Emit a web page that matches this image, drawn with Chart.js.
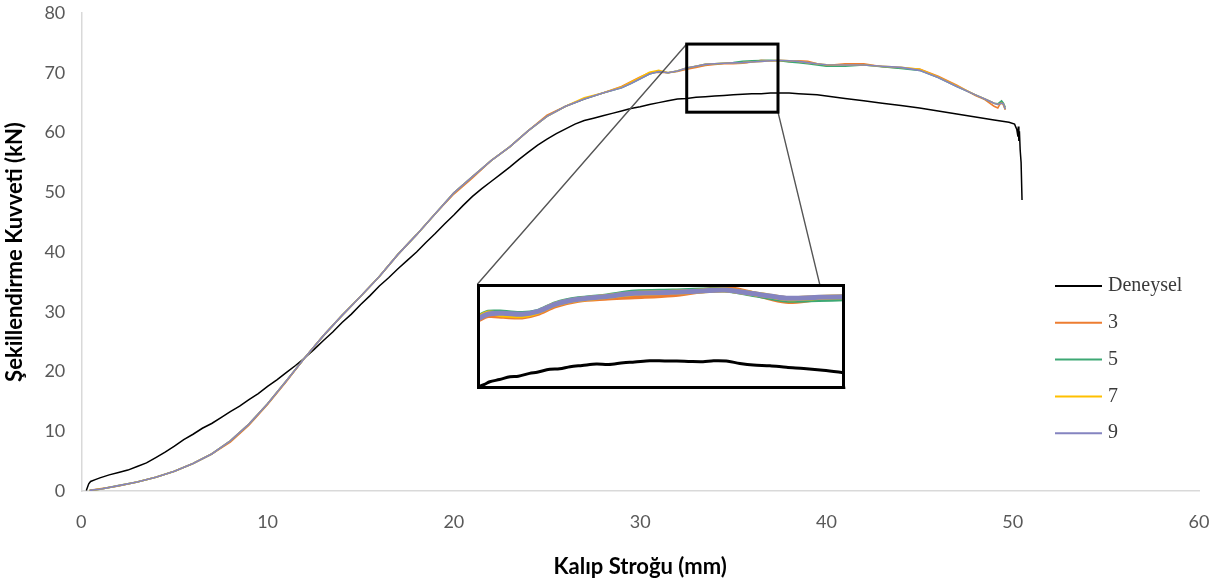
<!DOCTYPE html>
<html>
<head>
<meta charset="utf-8">
<script src="https://cdn.jsdelivr.net/npm/chart.js@4.4.0/dist/chart.umd.min.js"></script>
<style>
  html, body { margin: 0; padding: 0; background: #fff; }
  #wrap { position: relative; width: 1231px; height: 583px; }
  #main { position: absolute; left: 0; top: 0; }
  #inset { position: absolute; background: #fff; }
</style>
</head>
<body>
<div id="wrap">
  <canvas id="main" width="1231" height="583"></canvas>
  <canvas id="inset"></canvas>
</div>
<script>
// ---------------- DATA ----------------
const seriesLabels = ['Deneysel', '3', '5', '7', '9'];
const seriesColors = ['#000000', '#ED7D31', '#3DA874', '#FFC000', '#8584C0'];

const xTicks = [0, 10, 20, 30, 40, 50, 60];
const yTicks = [0, 10, 20, 30, 40, 50, 60, 70, 80];

// Experimental curve (Deneysel)
const expX = [0.27, 0.4, 0.5, 0.75, 1.0, 1.5, 2.0, 2.5, 3.0, 3.5, 4.0, 4.5, 5.0, 5.5, 6.0, 6.5, 7.0, 7.5, 8.0, 8.5, 9.0, 9.5, 10.0, 10.5, 11.0, 11.5, 12.0, 12.5, 13.0, 13.5, 14.0, 14.5, 15.0, 15.5, 16.0, 16.5, 17.0, 17.5, 18.0, 18.5, 19.0, 19.5, 20.0, 20.5, 21.0, 21.5, 22.0, 22.5, 23.0, 23.5, 24.0, 24.5, 25.0, 25.5, 26.0, 26.5, 27.0, 27.5, 28.0, 28.5, 29.0, 29.5, 30.0, 30.5, 31.0, 31.5, 32.0, 32.5, 33.0, 33.5, 34.0, 34.5, 35.0, 35.5, 36.0, 36.5, 37.0, 37.5, 38.0, 38.5, 39.0, 39.5, 40.0, 41.0, 42.0, 43.0, 44.0, 45.0, 46.0, 47.0, 48.0, 49.0, 49.8, 50.1, 50.22, 50.28, 50.3, 50.33, 50.36, 50.4, 50.45, 50.5];
const expY = [0.1, 1.2, 1.6, 1.9, 2.2, 2.7, 3.1, 3.5, 4.1, 4.7, 5.6, 6.5, 7.5, 8.6, 9.5, 10.5, 11.3, 12.3, 13.3, 14.2, 15.3, 16.3, 17.5, 18.6, 19.8, 21.0, 22.3, 23.7, 25.2, 26.6, 28.2, 29.6, 31.2, 32.7, 34.3, 35.7, 37.2, 38.6, 40.0, 41.6, 43.1, 44.7, 46.2, 47.8, 49.3, 50.6, 51.8, 53.0, 54.2, 55.5, 56.7, 57.9, 58.9, 59.8, 60.6, 61.4, 62.0, 62.4, 62.8, 63.2, 63.6, 64.0, 64.3, 64.7, 65.0, 65.3, 65.6, 65.7, 65.9, 66.0, 66.1, 66.2, 66.3, 66.4, 66.5, 66.5, 66.6, 66.6, 66.6, 66.5, 66.4, 66.3, 66.1, 65.7, 65.3, 64.9, 64.5, 64.1, 63.6, 63.1, 62.6, 62.1, 61.7, 61.4, 60.5, 59.3, 61.0, 58.6, 60.2, 57.1, 55.0, 48.7];

// Simulations (3, 5, 7, 9) share one x array
const simX = [0.45, 1, 2, 3, 4, 5, 6, 7, 8, 9, 10, 11, 12, 13, 14, 15, 16, 17, 18, 19, 20, 21, 22, 23, 24, 25, 26, 27, 28, 29, 29.5, 30, 30.5, 31, 31.5, 32, 32.5, 33, 33.5, 34, 34.5, 35, 35.5, 36, 36.5, 37, 37.5, 38, 38.5, 39, 39.5, 40, 41, 42, 43, 44, 45, 46, 47, 48, 48.5, 49, 49.2, 49.4, 49.5, 49.6];
const sim3 = [0.1, 0.35, 0.85, 1.5, 2.3, 3.3, 4.6, 6.2, 8.2, 11.0, 14.5, 18.3, 22.3, 26.0, 29.4, 32.6, 35.9, 39.6, 42.9, 46.4, 49.7, 52.4, 55.3, 57.6, 60.3, 62.9, 64.4, 65.6, 66.6, 67.7, 68.5, 69.3, 70.0, 70.1, 70.0, 70.2, 70.6, 70.9, 71.2, 71.4, 71.5, 71.5, 71.6, 71.8, 72.1, 72.0, 72.0, 71.9, 72.0, 71.9, 71.5, 71.2, 71.5, 71.5, 71.0, 70.8, 70.6, 69.4, 67.9, 66.2, 65.5, 64.4, 64.1, 65.2, 64.6, 63.8];
const sim5 = [0.1, 0.3, 0.9, 1.5, 2.3, 3.3, 4.6, 6.2, 8.4, 11.2, 14.6, 18.4, 22.3, 26.0, 29.4, 32.6, 35.9, 39.6, 42.9, 46.4, 49.9, 52.6, 55.3, 57.6, 60.3, 62.7, 64.4, 65.6, 66.6, 67.5, 68.2, 69.0, 69.8, 70.2, 70.0, 70.3, 70.8, 71.1, 71.4, 71.5, 71.6, 71.7, 71.9, 72.0, 72.05, 72.1, 72.0, 71.8, 71.7, 71.5, 71.3, 71.1, 71.1, 71.3, 71.0, 70.7, 70.4, 69.2, 67.7, 66.3, 65.6, 64.9, 64.8, 65.3, 64.9, 64.2];
const sim7 = [0.1, 0.3, 0.9, 1.5, 2.3, 3.3, 4.6, 6.2, 8.4, 11.2, 14.6, 18.4, 22.3, 26.0, 29.4, 32.6, 35.9, 39.6, 42.9, 46.4, 49.9, 52.6, 55.3, 57.6, 60.3, 62.7, 64.4, 65.8, 66.6, 67.6, 68.4, 69.2, 70.1, 70.4, 70.0, 70.3, 70.8, 71.1, 71.4, 71.5, 71.6, 71.65, 71.7, 71.8, 71.9, 72.0, 72.1, 72.0, 71.9, 71.7, 71.5, 71.35, 71.3, 71.3, 71.1, 70.9, 70.6, 69.3, 67.8, 66.3, 65.6, 64.9, 64.7, 64.9, 64.8, 63.9];
const sim9 = [0.1, 0.3, 0.9, 1.5, 2.3, 3.3, 4.6, 6.2, 8.4, 11.2, 14.6, 18.4, 22.3, 26.0, 29.4, 32.6, 35.9, 39.6, 42.9, 46.4, 49.9, 52.6, 55.3, 57.6, 60.3, 62.7, 64.4, 65.6, 66.6, 67.5, 68.2, 69.0, 69.8, 70.2, 70.0, 70.3, 70.8, 71.1, 71.4, 71.5, 71.6, 71.65, 71.7, 71.8, 71.9, 72.0, 72.1, 72.0, 71.9, 71.7, 71.5, 71.35, 71.3, 71.3, 71.1, 70.9, 70.4, 69.2, 67.7, 66.3, 65.6, 64.9, 64.7, 64.9, 64.8, 63.9];

// Zoomed window (box on the curves) and where its enlargement is placed
const zoomBoxX = [32.5, 37.4];
const zoomBoxY = [63.4, 74.8];
const insetBoxX = [21.26, 41.0];
const insetBoxY = [17.1, 34.6];

// Enlarged view readings
const insetYRange = [65.6, 73.4];
const insetSimX = [32.5, 32.65, 32.85, 33.1, 33.3, 33.55, 33.85, 34.2, 34.6, 35.1, 35.5, 35.8, 36.1, 36.4, 36.65, 37.05, 37.4];
const inset3 = [70.7, 71.05, 71.0, 70.95, 71.2, 71.8, 72.2, 72.35, 72.45, 72.6, 72.9, 73.1, 72.8, 72.35, 72.1, 72.3, 72.4];
const inset5 = [70.9, 71.3, 71.3, 71.2, 71.35, 71.95, 72.3, 72.5, 72.8, 72.88, 72.95, 72.95, 72.7, 72.4, 72.2, 72.25, 72.3];
const inset7 = [70.85, 71.25, 71.1, 71.05, 71.3, 71.9, 72.25, 72.45, 72.7, 72.78, 72.88, 72.95, 72.75, 72.5, 72.3, 72.4, 72.45];
const inset9 = [70.78, 71.17, 71.22, 71.15, 71.34, 71.91, 72.26, 72.46, 72.71, 72.78, 72.88, 72.95, 72.75, 72.51, 72.34, 72.41, 72.46];
const insetExpX = [32.5, 32.6, 32.67, 32.8, 32.94, 33.05, 33.2, 33.3, 33.47, 33.6, 33.74, 33.9, 34.09, 34.25, 34.45, 34.6, 34.8, 35.0, 35.16, 35.35, 35.51, 35.65, 35.82, 36.0, 36.18, 36.4, 36.62, 36.85, 37.07, 37.25, 37.38];
const insetExp = [65.73, 65.95, 66.14, 66.3, 66.51, 66.55, 66.76, 66.85, 67.06, 67.1, 67.26, 67.35, 67.46, 67.42, 67.55, 67.6, 67.7, 67.68, 67.68, 67.64, 67.63, 67.7, 67.68, 67.5, 67.38, 67.33, 67.21, 67.12, 67.01, 66.9, 66.81];

// ---------------- BUILD ----------------
function pts(xs, ys) { return xs.map((x, i) => ({ x: x, y: ys[i] })); }

const mainSeries = [pts(expX, expY), pts(simX, sim3), pts(simX, sim5), pts(simX, sim7), pts(simX, sim9)];
const insetSeries = [pts(insetExpX, insetExp), pts(insetSimX, inset3), pts(insetSimX, inset5), pts(insetSimX, inset7), pts(insetSimX, inset9)];

const tickFont = { family: 'Lato, "Open Sans", sans-serif', size: 18 };
const titleFont = { family: 'Lato, "Open Sans", sans-serif', size: 22, weight: 'bold' };

const overlayPlugin = {
  id: 'overlay',
  afterDatasetsDraw(chart) {
    const ctx = chart.ctx, xs = chart.scales.x, ys = chart.scales.y;
    const zx0 = xs.getPixelForValue(zoomBoxX[0]), zx1 = xs.getPixelForValue(zoomBoxX[1]);
    const zy0 = ys.getPixelForValue(zoomBoxY[1]), zy1 = ys.getPixelForValue(zoomBoxY[0]);
    const ix0 = xs.getPixelForValue(insetBoxX[0]), ix1 = xs.getPixelForValue(insetBoxX[1]);
    const iy0 = ys.getPixelForValue(insetBoxY[1]), iy1 = ys.getPixelForValue(insetBoxY[0]);
    ctx.save();
    ctx.strokeStyle = '#555555';
    ctx.lineWidth = 1.4;
    ctx.beginPath();
    ctx.moveTo(zx0, zy0); ctx.lineTo(ix0, iy0);
    ctx.moveTo(zx1, zy1); ctx.lineTo(ix1, iy1);
    ctx.stroke();
    ctx.strokeStyle = '#000';
    ctx.lineWidth = 3;
    ctx.strokeRect(zx0, zy0, zx1 - zx0, zy1 - zy0);
    // legend
    ctx.font = '20px "Liberation Serif", serif';
    ctx.textBaseline = 'middle';
    ctx.textAlign = 'left';
    const lx = 1055, ly = 286, step = 36.8;
    seriesLabels.forEach((lab, i) => {
      const y = ly + i * step;
      ctx.strokeStyle = seriesColors[i];
      ctx.lineWidth = 2;
      ctx.beginPath(); ctx.moveTo(lx, y); ctx.lineTo(lx + 47, y); ctx.stroke();
      ctx.fillStyle = '#3a3a3a';
      ctx.fillText(lab, lx + 53, y);
    });
    ctx.restore();
  }
};

const mainChart = new Chart(document.getElementById('main'), {
  type: 'line',
  data: {
    datasets: mainSeries.map((d, i) => ({
      label: seriesLabels[i],
      data: d,
      borderColor: seriesColors[i],
      borderWidth: i === 0 ? 1.5 : 1.6,
      pointRadius: 0,
      tension: 0,
      fill: false,
      order: i === 0 ? 5 : 5 - i
    }))
  },
  options: {
    responsive: false,
    animation: false,
    events: [],
    layout: { padding: { left: 2, right: 32, top: 13, bottom: 3 } },
    plugins: { legend: { display: false }, tooltip: { enabled: false } },
    scales: {
      x: {
        type: 'linear', min: 0, max: 60,
        afterBuildTicks: (s) => { s.ticks = xTicks.map(v => ({ value: v })); },
        ticks: { font: tickFont, color: '#595959', padding: 20.5 },
        grid: { display: false, drawTicks: false },
        border: { display: true, color: '#d9d9d9', width: 1.5 },
        title: { display: true, text: 'Kalıp Stroğu (mm)', font: titleFont, color: '#000', padding: { top: 0, bottom: 0 } }
      },
      y: {
        type: 'linear', min: 0, max: 80,
        afterBuildTicks: (s) => { s.ticks = yTicks.map(v => ({ value: v })); },
        afterFit: (s) => { s.paddingTop = 0; },
        ticks: { font: tickFont, color: '#595959', padding: 16 },
        grid: { display: false, drawTicks: false },
        border: { display: true, color: '#d9d9d9', width: 1.5 },
        title: { display: true, text: 'Şekillendirme Kuvveti (kN)', font: titleFont, color: '#000', padding: { top: 0, bottom: 0 } }
      }
    }
  },
  plugins: [overlayPlugin]
});

// Inset chart placed over the enlargement box, using the main chart's scales for placement
const xs = mainChart.scales.x, ys = mainChart.scales.y;
const il = xs.getPixelForValue(insetBoxX[0]), ir = xs.getPixelForValue(insetBoxX[1]);
const it = ys.getPixelForValue(insetBoxY[1]), ib = ys.getPixelForValue(insetBoxY[0]);
const insetCanvas = document.getElementById('inset');
insetCanvas.width = Math.round(ir - il);
insetCanvas.height = Math.round(ib - it);
insetCanvas.style.left = Math.round(il) + 'px';
insetCanvas.style.top = Math.round(it) + 'px';

const insetBorder = {
  id: 'insetBorder',
  afterDraw(chart) {
    const ctx = chart.ctx;
    ctx.save();
    ctx.strokeStyle = '#000';
    ctx.lineWidth = 3;
    ctx.strokeRect(1.5, 1.5, chart.width - 3, chart.height - 3);
    ctx.restore();
  }
};

new Chart(insetCanvas, {
  type: 'line',
  data: {
    datasets: insetSeries.map((d, i) => ({
      label: seriesLabels[i],
      data: d,
      borderColor: seriesColors[i],
      borderWidth: i === 0 ? 3 : 5,
      pointRadius: 0,
      tension: 0.3,
      fill: false,
      order: i === 0 ? 5 : 5 - i
    }))
  },
  options: {
    responsive: false,
    animation: false,
    events: [],
    layout: { padding: 0 },
    plugins: { legend: { display: false }, tooltip: { enabled: false } },
    scales: {
      x: { type: 'linear', display: false, min: zoomBoxX[0], max: zoomBoxX[1] },
      y: { type: 'linear', display: false, min: insetYRange[0], max: insetYRange[1] }
    }
  },
  plugins: [insetBorder]
});
</script>
</body>
</html>
